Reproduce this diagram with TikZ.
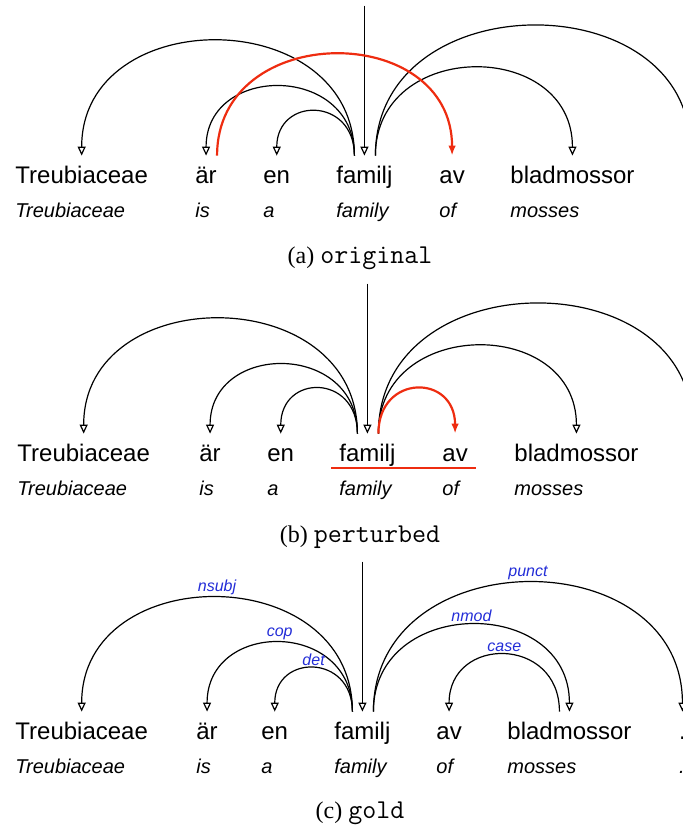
\documentclass[tikz,border=0pt]{standalone}
\usepackage{fontspec}
\setmainfont{Liberation Serif}
\setsansfont{Liberation Sans}
\usepackage{tikz}
\usetikzlibrary{arrows.meta,positioning,calc}
\definecolor{errred}{RGB}{238,44,16}
\definecolor{labblue}{RGB}{35,45,215}

\begin{document}
\begin{tikzpicture}[x=0.5pt,y=-0.5pt,
    word/.style={font=\sffamily\fontsize{12}{14}\selectfont,anchor=base west,inner xsep=0pt,inner ysep=4.5pt,text height=9pt,text depth=2.5pt},
    gloss/.style={font=\sffamily\itshape\fontsize{10}{12}\selectfont,anchor=base west,inner sep=0pt},
    dep/.style={line width=0.6pt,-{Triangle[open,length=4.5pt,width=4pt]}},
    wrong/.style={line width=1.1pt,errred,-{Latex[length=5pt,width=3.8pt]}},
    lab/.style={font=\sffamily\itshape\fontsize{8}{9}\selectfont,text=labblue,inner sep=1pt},
    caption/.style={font=\fontsize{12}{14}\selectfont}]
    \useasboundingbox (0,0) rectangle (683,829);
    \clip (0,0) rectangle (683,829);

    % (a) original
    \node[word] (treu-a) at (15,183) {Treubiaceae};
    \node[word] (ar-a) at (195,183) {är};
    \node[word] (en-a) at (263,183) {en};
    \node[word] (fam-a) at (336,183) {familj};
    \node[word] (av-a) at (439,183) {av};
    \node[word] (blad-a) at (510,183) {bladmossor};
    \coordinate (pct-a) at (690,156);
    \node[gloss] (treu-ga) at ([yshift=-17pt]treu-a.base west) {Treubiaceae};
    \node[gloss] (ar-ga) at ([yshift=-17pt]ar-a.base west) {is};
    \node[gloss] (en-ga) at ([yshift=-17pt]en-a.base west) {a};
    \node[gloss] (fam-ga) at ([yshift=-17pt]fam-a.base west) {family};
    \node[gloss] (av-ga) at ([yshift=-17pt]av-a.base west) {of};
    \node[gloss] (blad-ga) at ([yshift=-17pt]blad-a.base west) {mosses};

    \coordinate (root-a) at ([yshift=75pt]fam-a.north);
    \draw[dep] (root-a) -- (fam-a.north);
    \draw[dep] ([xshift=-5pt]fam-a.north) .. controls +(0,-153) and +(0,-153) .. (treu-a.north);
    \draw[dep] ([xshift=-5pt]fam-a.north) .. controls +(0,-92) and +(0,-92) .. (ar-a.north);
    \draw[dep] ([xshift=-5pt]fam-a.north) .. controls +(0,-59) and +(0,-59) .. (en-a.north);
    \draw[dep] ([xshift=5.5pt]fam-a.north) .. controls +(0,-117) and +(0,-117) .. (blad-a.north);
    \draw[dep] ([xshift=5.5pt]fam-a.north) .. controls +(0,-173) and +(0,-173) .. (pct-a);
    \draw[wrong] ([xshift=5.5pt]ar-a.north) .. controls +(0,-135) and +(0,-135) .. (av-a.north);

    \node[caption] (cap-a) at (360,258) {(a) {\ttfamily\fontsize{13.6}{14}\selectfont original}};

    % (b) perturbed
    \node[word] (treu-b) at (17,461) {Treubiaceae};
    \node[word] (ar-b) at (199,461) {är};
    \node[word] (en-b) at (267,461) {en};
    \node[word] (fam-b) at (339,461) {familj};
    \node[word] (av-b) at (442,461) {av};
    \node[word] (blad-b) at (514,461) {bladmossor};
    \coordinate (pct-b) at (692,434);
    \node[gloss] (treu-gb) at ([yshift=-17pt]treu-b.base west) {Treubiaceae};
    \node[gloss] (ar-gb) at ([yshift=-17pt]ar-b.base west) {is};
    \node[gloss] (en-gb) at ([yshift=-17pt]en-b.base west) {a};
    \node[gloss] (fam-gb) at ([yshift=-17pt]fam-b.base west) {family};
    \node[gloss] (av-gb) at ([yshift=-17pt]av-b.base west) {of};
    \node[gloss] (blad-gb) at ([yshift=-17pt]blad-b.base west) {mosses};

    \coordinate (root-b) at ([yshift=75pt]fam-b.north);
    \draw[dep] (root-b) -- (fam-b.north);
    \draw[dep] ([xshift=-5pt]fam-b.north) .. controls +(0,-153) and +(0,-153) .. (treu-b.north);
    \draw[dep] ([xshift=-5pt]fam-b.north) .. controls +(0,-92) and +(0,-92) .. (ar-b.north);
    \draw[dep] ([xshift=-5pt]fam-b.north) .. controls +(0,-60) and +(0,-60) .. (en-b.north);
    \draw[dep] ([xshift=5.5pt]fam-b.north) .. controls +(0,-117) and +(0,-117) .. (blad-b.north);
    \draw[dep] ([xshift=5.5pt]fam-b.north) .. controls +(0,-173) and +(0,-173) .. (pct-b);
    \draw[wrong] ([xshift=5.5pt]fam-b.north) .. controls +(0,-60) and +(0,-60) .. (av-b.north);

    % swapped span
    \coordinate (ul-b1) at ([xshift=-4pt,yshift=-3.5pt]fam-b.base west);
    \coordinate (ul-b2) at ([xshift=4pt,yshift=-3.5pt]av-b.base east);
    \draw[errred,line width=1.1pt] (ul-b1) -- (ul-b2);

    \node[caption] (cap-b) at (360,537) {(b) {\ttfamily\fontsize{13.6}{14}\selectfont perturbed}};

    % (c) gold
    \node[word] (treu-c) at (15,739) {Treubiaceae};
    \node[word] (ar-c) at (196,739) {är};
    \node[word] (en-c) at (261,739) {en};
    \node[word] (fam-c) at (334,739) {familj};
    \node[word] (av-c) at (436,739) {av};
    \node[word] (blad-c) at (507,739) {bladmossor};
    \node[word] (pct-c) at (678.7,739) {.};
    \node[gloss] (treu-gc) at ([yshift=-17pt]treu-c.base west) {Treubiaceae};
    \node[gloss] (ar-gc) at ([yshift=-17pt]ar-c.base west) {is};
    \node[gloss] (en-gc) at ([yshift=-17pt]en-c.base west) {a};
    \node[gloss] (fam-gc) at ([yshift=-17pt]fam-c.base west) {family};
    \node[gloss] (av-gc) at ([yshift=-17pt]av-c.base west) {of};
    \node[gloss] (blad-gc) at ([yshift=-17pt]blad-c.base west) {mosses};
    \node[gloss] (pct-gc) at ([yshift=-17pt]pct-c.base west) {.};

    \coordinate (root-c) at ([yshift=75pt]fam-c.north);
    \draw[dep] (root-c) -- (fam-c.north);
    \draw[dep] ([xshift=-5pt]fam-c.north) .. controls +(0,-152) and +(0,-152) .. (treu-c.north)
        node[lab,midway,above] (l-nsubj) {nsubj};
    \draw[dep] ([xshift=-5pt]fam-c.north) .. controls +(0,-92) and +(0,-92) .. (ar-c.north)
        node[lab,midway,above] (l-cop) {cop};
    \draw[dep] ([xshift=-5pt]fam-c.north) .. controls +(0,-58) and +(0,-58) .. (en-c.north)
        node[lab,midway,above] (l-det) {det};
    \draw[dep] ([xshift=5.5pt]fam-c.north) .. controls +(0,-116) and +(0,-116) .. (blad-c.north)
        node[lab,midway,above] (l-nmod) {nmod};
    \draw[dep] ([xshift=5.5pt]fam-c.north) .. controls +(0,-172) and +(0,-172) .. (pct-c.north)
        node[lab,midway,above] (l-punct) {punct};
    \draw[dep] ([xshift=-5pt]blad-c.north) .. controls +(0,-76) and +(0,-76) .. (av-c.north)
        node[lab,midway,above] (l-case) {case};

    \node[caption] (cap-c) at (360,813) {(c) {\ttfamily\fontsize{13.6}{14}\selectfont gold}};
\end{tikzpicture}
\end{document}
